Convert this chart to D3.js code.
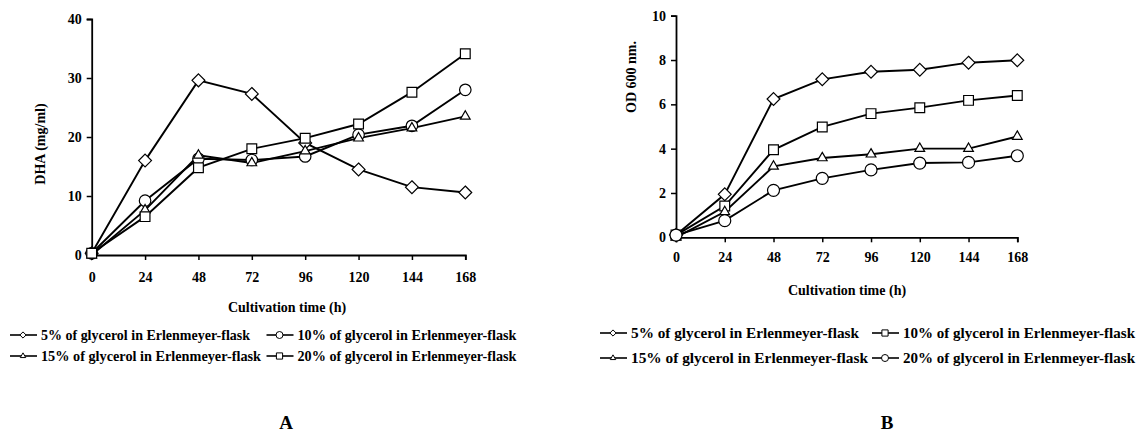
<!DOCTYPE html>
<html><head><meta charset="utf-8">
<script src="https://cdn.jsdelivr.net/npm/d3@7"></script>
<style>
body{margin:0;background:#fff;}
text{font-family:"Liberation Serif","Times New Roman",serif;font-weight:bold;fill:#000;}
</style></head><body>
<svg id="c" width="1143" height="437"></svg>
<script>
const hours = [0, 24, 48, 72, 96, 120, 144, 168];
const xTicks = [0, 24, 48, 72, 96, 120, 144, 168];

// Panel A: DHA (mg/ml)
const dha5  = [0.3, 16.0, 29.6, 27.3, 19.0, 14.5, 11.5, 10.6];
const dha10 = [0.3, 9.2, 16.3, 16.1, 16.7, 20.4, 21.9, 28.0];
const dha15 = [0.0, 7.6, 16.9, 15.6, 17.6, 19.8, 21.5, 23.5];
const dha20 = [0.3, 6.5, 14.8, 18.0, 19.8, 22.2, 27.6, 34.1];
const yTicksA = [0, 10, 20, 30, 40];

// Panel B: OD 600 nm
const od5  = [0.1, 1.94, 6.24, 7.13, 7.47, 7.56, 7.88, 7.99];
const od10 = [0.1, 1.41, 3.95, 4.98, 5.58, 5.85, 6.18, 6.40];
const od15 = [0.0, 1.15, 3.2, 3.58, 3.75, 4.0, 4.0, 4.55];
const od20 = [0.1, 0.75, 2.12, 2.66, 3.04, 3.35, 3.38, 3.68];
const yTicksB = [0, 2, 4, 6, 8, 10];

const labelsA = ["5% of glycerol in Erlenmeyer-flask", "10% of glycerol in  Erlenmeyer-flask",
                 "15% of glycerol in  Erlenmeyer-flask", "20% of glycerol in  Erlenmeyer-flask"];
const labelsB = ["5% of glycerol in Erlenmeyer-flask", "10% of glycerol in Erlenmeyer-flask",
                 "15% of glycerol in Erlenmeyer-flask", "20% of glycerol in Erlenmeyer-flask"];

const svg = d3.select("#c");

function symbolPath(kind, size) {
  const t = {diamond: d3.symbolDiamond2, circle: d3.symbolCircle, triangle: d3.symbolTriangle2, square: d3.symbolSquare2}[kind];
  return d3.symbol(t, size)();
}
function symSize(kind, px) {
  if (kind === "circle") return Math.PI * (px / 2) * (px / 2);
  if (kind === "square") return px * px;
  if (kind === "diamond") return (px / 2) * (px / 2) * 2;
  if (kind === "triangle") return px * px * 0.433;
  return px * px;
}

function panel(cfg) {
  const x = d3.scaleLinear().domain([0, 168]).range([cfg.x0, cfg.x1]);
  const y = d3.scaleLinear().domain([0, cfg.yMax]).range([cfg.y0, cfg.y1]);
  const g = svg.append("g");

  const xa = g.append("g").attr("transform", `translate(0,${cfg.y0})`)
    .call(d3.axisBottom(x).tickValues(xTicks).tickSize(5).tickPadding(cfg.xpad).tickFormat(d3.format("d")));
  const ya = g.append("g").attr("transform", `translate(${cfg.x0},0)`)
    .call(d3.axisLeft(y).tickValues(cfg.yTicks).tickSize(5).tickPadding(5).tickFormat(d3.format("d")));
  [xa, ya].forEach(a => {
    a.select(".domain").attr("stroke", "#000").attr("stroke-width", 1.8);
    a.selectAll(".tick line").attr("stroke", "#000").attr("stroke-width", 1.5);
    a.selectAll(".tick text").style("font-size", "14px").style("font-family", '"Liberation Serif",serif').style("font-weight", "bold");
  });

  g.append("text").attr("transform", `translate(${cfg.ylx},${cfg.yly}) rotate(-90)`)
    .attr("text-anchor", "middle").attr("dominant-baseline", "central").style("font-size", "14px").text(cfg.ylabel);
  g.append("text").attr("x", cfg.xlx).attr("y", cfg.xly).attr("text-anchor", "middle")
    .attr("dominant-baseline", "central").style("font-size", "14px").text("Cultivation time (h)");

  const line = d3.line().x((d, i) => x(hours[i])).y(d => y(d));
  cfg.series.forEach(s => {
    g.append("path").datum(s.vals).attr("d", line).attr("fill", "none").attr("stroke", "#000").attr("stroke-width", 1.9);
  });
  cfg.series.forEach(s => {
    g.selectAll(null).data(s.vals).join("path")
      .attr("d", symbolPath(s.sym, symSize(s.sym, s.px)))
      .attr("transform", (d, i) => `translate(${x(hours[i])},${y(d)})`)
      .attr("fill", "#fff").attr("stroke", "#000").attr("stroke-width", 1.2);
  });

  cfg.legend.forEach((L) => {
    const lg = g.append("g").attr("transform", `translate(${L.x},${L.y})`);
    lg.append("line").attr("x1", 0).attr("x2", 27).attr("y1", 0).attr("y2", 0).attr("stroke", "#000").attr("stroke-width", 1.6);
    lg.append("path").attr("d", symbolPath(L.sym, symSize(L.sym, 7))).attr("transform", "translate(13,0)")
      .attr("fill", "#fff").attr("stroke", "#000").attr("stroke-width", 1);
    lg.append("text").attr("x", 31).attr("y", 0).attr("dominant-baseline", "central")
      .style("font-size", "14px").attr("textLength", L.w).attr("lengthAdjust", "spacingAndGlyphs").text(L.label);
  });

  g.append("text").attr("x", cfg.letterX).attr("y", 422).attr("text-anchor", "middle")
    .attr("dominant-baseline", "central").style("font-size", "19px").text(cfg.letter);
}

panel({
  x0: 91.7, x1: 465.3, y0: 255, y1: 19, yMax: 40, yTicks: yTicksA, xpad: 12,
  ylabel: "DHA (mg/ml)", ylx: 40, yly: 144, xlx: 287, xly: 307,
  series: [
    {vals: dha5, sym: "diamond", px: 14.5},
    {vals: dha10, sym: "circle", px: 11.5},
    {vals: dha15, sym: "triangle", px: 12.5},
    {vals: dha20, sym: "square", px: 11}
  ],
  legend: [
    {x: 10, y: 335, sym: "diamond", w: 209, label: labelsA[0]},
    {x: 266.5, y: 335, sym: "circle", w: 219, label: labelsA[1]},
    {x: 10, y: 356, sym: "triangle", w: 220, label: labelsA[2]},
    {x: 266.5, y: 356, sym: "square", w: 219, label: labelsA[3]}
  ],
  letter: "A", letterX: 286
});

panel({
  x0: 676, x1: 1017.3, y0: 237.3, y1: 15.7, yMax: 10, yTicks: yTicksB, xpad: 10,
  ylabel: "OD 600  nm.", ylx: 631.7, yly: 77, xlx: 847, xly: 290,
  series: [
    {vals: od5, sym: "diamond", px: 14.5},
    {vals: od10, sym: "square", px: 11},
    {vals: od15, sym: "triangle", px: 12.5},
    {vals: od20, sym: "circle", px: 12}
  ],
  legend: [
    {x: 600, y: 333, sym: "diamond", w: 228, label: labelsB[0]},
    {x: 872, y: 333, sym: "square", w: 232, label: labelsB[1]},
    {x: 600, y: 358, sym: "triangle", w: 237, label: labelsB[2]},
    {x: 872, y: 358, sym: "circle", w: 232, label: labelsB[3]}
  ],
  letter: "B", letterX: 887
});
</script></body></html>
